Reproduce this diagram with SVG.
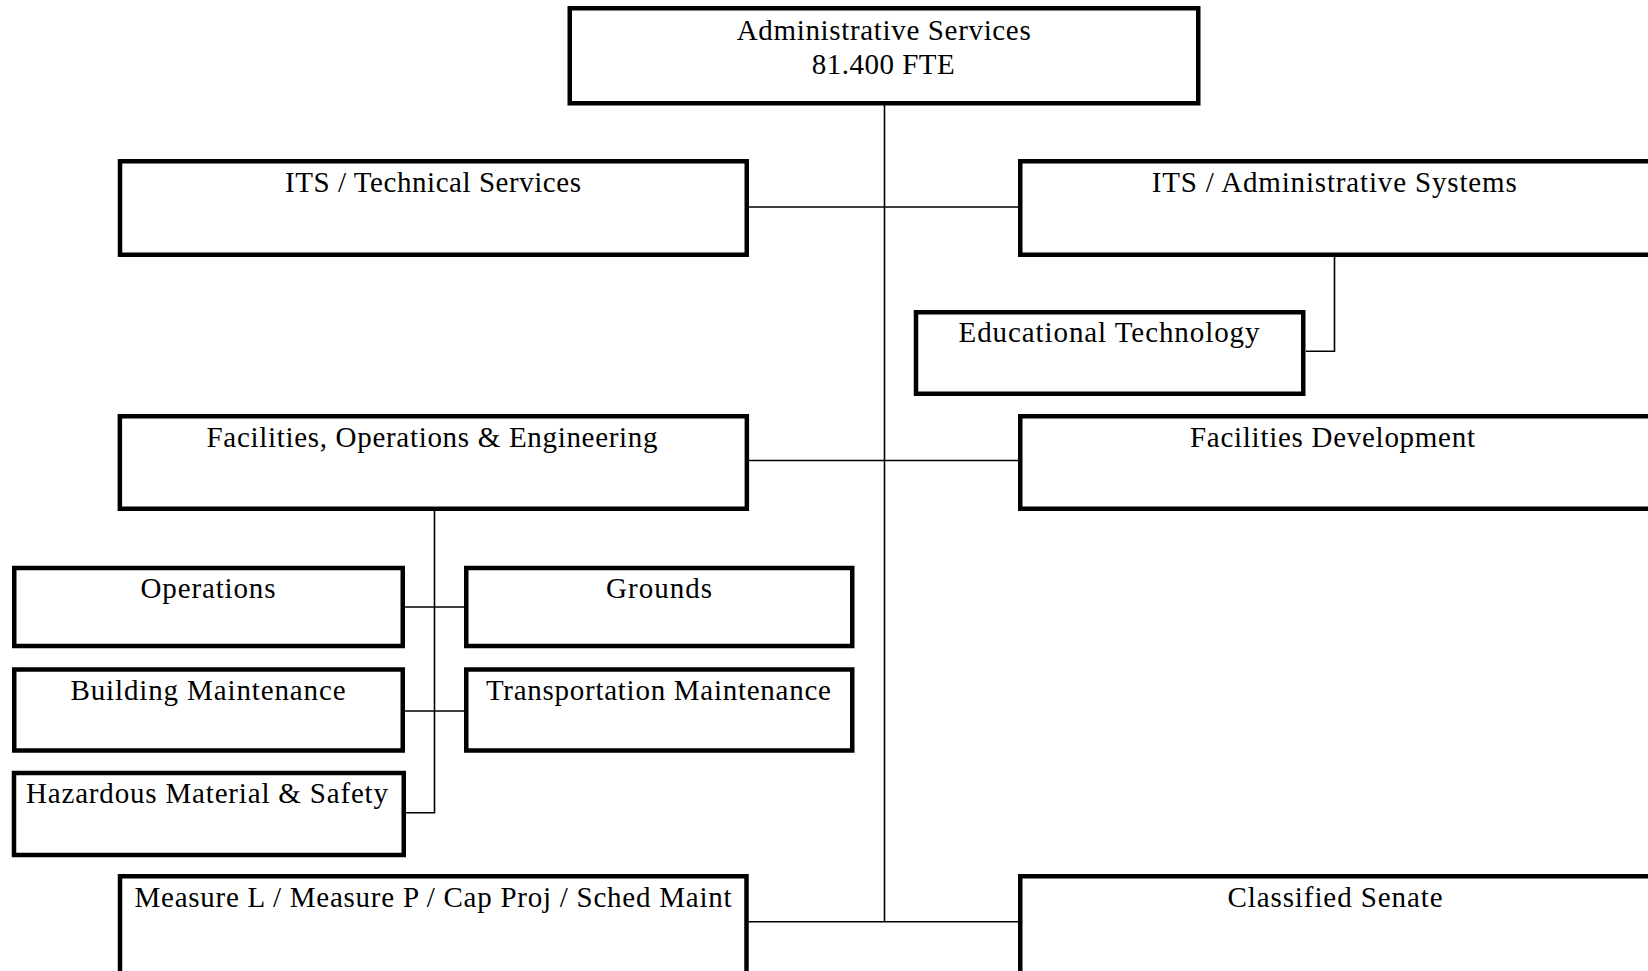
<svg xmlns="http://www.w3.org/2000/svg" width="1648" height="971" viewBox="0 0 1648 971">
<style>
.box{fill:#fff;stroke:#000;stroke-width:4.5}
.lbl{font-family:"Liberation Serif","Times New Roman",serif;font-size:29px;fill:#000;text-anchor:middle}
.conn{fill:none;stroke:#000;stroke-width:1.6}
</style>
<rect width="1648" height="971" fill="#fff"/>
<g id="connectors">
<line class="conn" x1="884.5" y1="105" x2="884.5" y2="922"/>
<line class="conn" x1="749" y1="207" x2="1018" y2="207"/>
<polyline class="conn" points="1334.5,257 1334.5,351.3 1306,351.3"/>
<line class="conn" x1="749" y1="460.5" x2="1018" y2="460.5"/>
<polyline class="conn" points="434.5,511 434.5,812.7 406,812.7"/>
<line class="conn" x1="405" y1="607" x2="464" y2="607"/>
<line class="conn" x1="405" y1="711" x2="464" y2="711"/>
<line class="conn" x1="748.6" y1="921.7" x2="1018" y2="921.7"/>
</g>
<g id="admin-services">
<rect class="box" x="569.75" y="8.25" width="628.5" height="95"/>
<text class="lbl" x="883.7" y="40" textLength="294" lengthAdjust="spacing">Administrative Services</text>
<text class="lbl" x="883.3" y="74" textLength="143" lengthAdjust="spacing">81.400 FTE</text>
</g>
<g id="its-technical">
<rect class="box" x="120" y="161.25" width="626.75" height="93.5"/>
<text class="lbl" x="433" y="191.7" textLength="296" lengthAdjust="spacing">ITS / Technical Services</text>
</g>
<g id="its-admin-systems">
<rect class="box" x="1020.25" y="161.25" width="632" height="93.5"/>
<text class="lbl" x="1334.2" y="191.7" textLength="365" lengthAdjust="spacing">ITS / Administrative Systems</text>
</g>
<g id="educational-technology">
<rect class="box" x="916" y="312.25" width="387.25" height="81.5"/>
<text class="lbl" x="1109" y="342.3" textLength="301" lengthAdjust="spacing">Educational Technology</text>
</g>
<g id="facilities-ops-eng">
<rect class="box" x="119.85" y="416.25" width="627" height="92.5"/>
<text class="lbl" x="432" y="446.7" textLength="451" lengthAdjust="spacing">Facilities, Operations &amp; Engineering</text>
</g>
<g id="facilities-development">
<rect class="box" x="1020.25" y="416.25" width="632" height="92.5"/>
<text class="lbl" x="1332.5" y="446.5" textLength="285" lengthAdjust="spacing">Facilities Development</text>
</g>
<g id="operations">
<rect class="box" x="14.25" y="568" width="388.5" height="78"/>
<text class="lbl" x="208" y="597.7" textLength="135" lengthAdjust="spacing">Operations</text>
</g>
<g id="grounds">
<rect class="box" x="466.25" y="568" width="386" height="78"/>
<text class="lbl" x="659" y="597.7" textLength="106" lengthAdjust="spacing">Grounds</text>
</g>
<g id="building-maintenance">
<rect class="box" x="14.25" y="669.5" width="388.5" height="81"/>
<text class="lbl" x="208" y="700" textLength="275" lengthAdjust="spacing">Building Maintenance</text>
</g>
<g id="transportation-maintenance">
<rect class="box" x="466.25" y="669.5" width="386" height="81"/>
<text class="lbl" x="658.4" y="700" textLength="345" lengthAdjust="spacing">Transportation Maintenance</text>
</g>
<g id="hazardous-material">
<rect class="box" x="14" y="773" width="389.75" height="82"/>
<text class="lbl" x="207" y="803.3" textLength="362" lengthAdjust="spacing">Hazardous Material &amp; Safety</text>
</g>
<g id="measure-l-p">
<rect class="box" x="120" y="876.25" width="626.5" height="100"/>
<text class="lbl" x="433" y="906.7" textLength="597" lengthAdjust="spacing">Measure L / Measure P / Cap Proj / Sched Maint</text>
</g>
<g id="classified-senate">
<rect class="box" x="1020.25" y="876.25" width="632" height="100"/>
<text class="lbl" x="1335" y="906.7" textLength="215" lengthAdjust="spacing">Classified Senate</text>
</g>
</svg>
